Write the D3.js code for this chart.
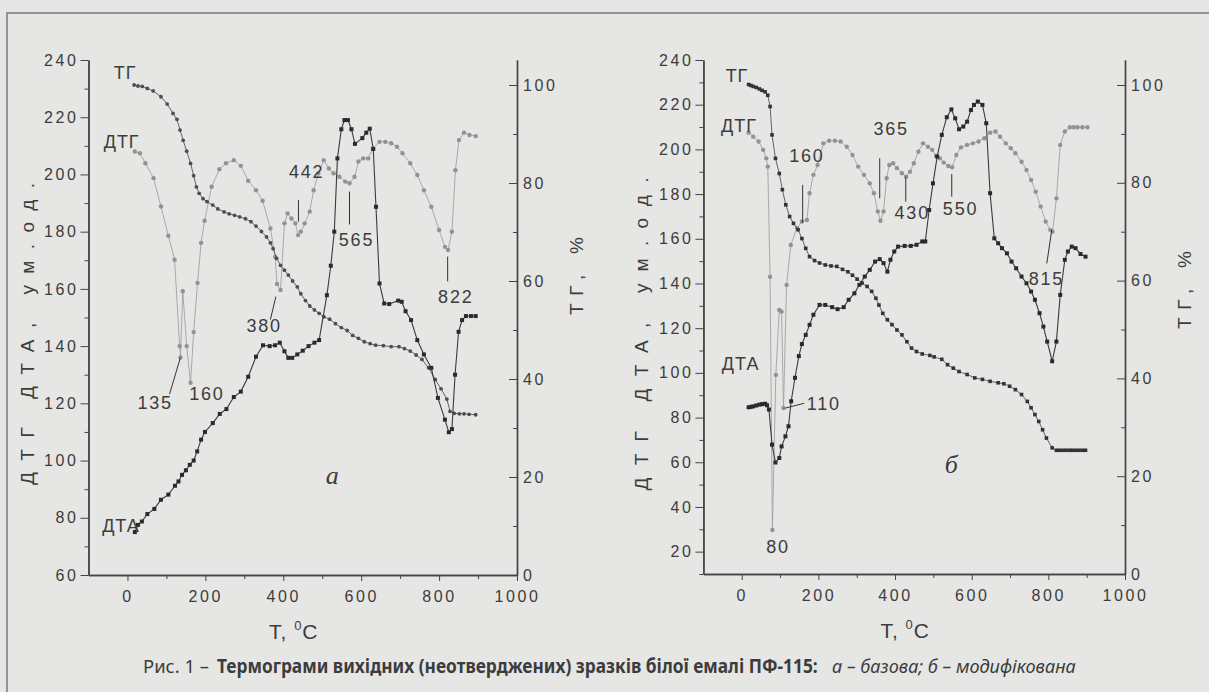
<!DOCTYPE html>
<html>
<head>
<meta charset="utf-8">
<script src="https://cdn.jsdelivr.net/npm/d3@7"></script>
<style>
  body { margin: 0; background: #e6e6e4; }
  svg { display: block; }
  text { font-family: "Liberation Sans", Arial, sans-serif; fill: #3c3c3c; }
</style>
</head>
<body>
<svg id="fig" width="1209" height="692"></svg>
<script>
// shared ticks
const tempTicks = [0, 200, 400, 600, 800, 1000];
const tempMinor = [100, 300, 500, 700, 900];
const tgTicks = [0, 20, 40, 60, 80, 100];
const tgMinor = [10, 30, 50, 70, 90];
const leftTicksA = [60, 80, 100, 120, 140, 160, 180, 200, 220, 240];
const leftMinorA = [70, 90, 110, 130, 150, 170, 190, 210, 230];
const leftTicksB = [20, 40, 60, 80, 100, 120, 140, 160, 180, 200, 220, 240];
const leftMinorB = [10, 30, 50, 70, 90, 110, 130, 150, 170, 190, 210, 230];

// panel а (базова): [T, °C ; value]
const dtaA = [[19,75.0],[27,77.5],[37,78.7],[51,81.3],[69,83.1],[86,86.3],[105,88.1],[122,91.2],[131,92.7],[140,95.0],
  [150,96.6],[160,98.5],[170,100.0],[179,103.2],[189,107.3],[199,110.0],[219,113.1],[237,116.3],[254,118.0],[273,122.2],
  [291,124.1],[310,129.3],[330,136.3],[348,140.3],[365,140.0],[379,140.3],[391,141.2],[403,138.2],[413,135.9],[423,135.9],
  [436,137.1],[450,138.4],[465,140.0],[480,141.2],[492,142.1],[512,157.8],[522,168.1],[531,180.0],[539,205.6],[549,215.8],
  [557,219.0],[566,219.0],[575,215.8],[584,210.7],[603,212.7],[613,214.6],[622,216.0],[631,208.9],[638,188.7],[647,161.9],
  [659,154.9],[672,154.7],[695,155.9],[704,155.5],[714,152.2],[728,149.1],[744,142.1],[761,137.1],[780,132.4],[797,121.9],
  [815,114.3],[825,109.9],[833,111.0],[841,130.0],[850,145.0],[859,149.1],[869,150.5],[882,150.5],[894,150.5]];
const dtgA = [[19,208.0],[32,207.4],[46,203.9],[67,198.7],[86,188.8],[105,178.6],[121,170.2],[134,140.0],[136,136.0],[142,159.2],
  [152,140.0],[162,127.2],[170,144.9],[180,162.1],[189,176.1],[198,183.8],[216,195.7],[236,201.8],[253,203.9],[273,205.0],
  [291,203.0],[310,197.8],[330,194.5],[347,190.8],[367,181.1],[379,171.2],[384,161.7],[393,159.6],[403,182.9],[411,186.4],
  [421,184.6],[431,182.9],[438,178.8],[445,180.0],[455,182.9],[468,187.0],[478,194.5],[490,200.4],[504,205.0],[517,202.1],
  [529,200.4],[544,199.2],[559,197.5],[570,196.9],[583,199.2],[593,204.5],[605,205.6],[618,205.6],[630,209.1],[647,211.4],
  [662,211.4],[677,210.9],[692,209.7],[706,207.4],[726,203.9],[744,199.8],[761,194.5],[780,188.7],[800,180.6],[815,174.7],
  [823,173.6],[833,180.0],[842,201.5],[851,212.0],[864,214.6],[878,213.8],[894,213.4]];
const tgA = [[17,100.0],[27,99.8],[38,99.7],[51,99.3],[66,98.8],[86,97.6],[102,96.1],[117,94.2],[127,93.0],[135,90.8],
  [143,88.7],[152,86.5],[162,84.0],[170,81.5],[177,79.2],[184,77.9],[194,76.8],[204,76.2],[219,75.5],[232,74.7],
  [248,74.1],[261,73.7],[275,73.4],[288,73.1],[303,72.7],[317,72.1],[330,71.2],[344,70.1],[357,69.0],[367,67.8],
  [374,66.6],[383,64.6],[393,63.2],[403,62.2],[413,61.2],[424,60.0],[436,58.8],[445,57.4],[457,56.0],[468,54.9],
  [480,54.1],[492,53.4],[504,52.7],[519,52.2],[534,51.3],[549,50.5],[564,49.9],[578,48.9],[593,48.3],[608,47.6],
  [623,47.2],[637,46.9],[657,46.8],[677,46.6],[697,46.6],[711,46.2],[726,45.7],[741,44.9],[756,44.0],[773,42.3],
  [790,39.9],[805,38.0],[820,35.9],[828,33.4],[839,33.0],[852,32.9],[864,32.9],[877,32.8],[894,32.7]];

// panel б (модифікована)
const dtaB = [[18,84.6],[24,84.8],[30,85.0],[38,85.4],[46,85.8],[53,86.0],[61,86.2],[66,85.5],[71,83.6],[79,67.9],
  [88,59.9],[98,61.9],[104,67.1],[114,71.6],[122,76.1],[129,87.3],[139,97.8],[149,107.5],[157,112.9],[167,117.0],
  [177,121.5],[187,126.0],[203,130.4],[218,130.4],[236,129.4],[250,128.5],[266,129.4],[279,132.7],[294,135.6],[307,139.4],
  [321,143.1],[334,146.1],[348,149.8],[360,150.9],[370,149.1],[380,145.3],[388,150.6],[398,154.3],[408,156.5],[425,156.8],
  [441,156.8],[456,157.3],[471,158.8],[479,158.8],[489,172.9],[499,184.8],[510,196.8],[522,206.5],[535,214.4],[547,217.9],
  [557,213.9],[567,209.0],[578,210.2],[588,212.4],[598,217.6],[606,219.9],[616,221.4],[628,219.9],[638,211.7],[648,180.4],
  [659,160.2],[669,158.0],[679,155.8],[692,153.5],[704,149.8],[716,146.8],[730,143.1],[743,140.1],[755,136.4],[765,132.7],
  [777,126.7],[787,120.7],[797,114.0],[810,105.2],[821,114.0],[831,134.9],[843,150.6],[851,154.3],[861,156.5],[871,155.8],
  [884,153.2],[897,152.0]];
const dtgB = [[18,207.5],[30,205.7],[44,203.5],[56,199.8],[64,196.0],[68,192.3],[74,143.0],[80,29.7],[89,99.1],[98,128.1],
  [104,127.4],[109,84.3],[117,139.3],[128,157.2],[144,164.8],[157,167.7],[170,168.4],[177,180.4],[187,188.6],[198,193.0],
  [213,202.7],[228,203.9],[243,203.9],[258,203.5],[274,201.2],[289,197.5],[304,192.3],[319,188.6],[334,184.8],[345,180.4],
  [355,172.2],[362,168.1],[370,172.2],[378,187.1],[385,193.0],[395,193.8],[405,191.6],[418,189.3],[429,187.8],[439,190.0],
  [449,193.8],[461,199.0],[473,202.7],[486,201.2],[497,199.8],[507,197.1],[517,196.0],[527,194.1],[539,192.6],[549,192.0],
  [560,197.5],[572,200.9],[588,202.0],[603,202.7],[618,203.5],[633,205.0],[648,207.5],[662,208.0],[674,205.7],[689,202.7],
  [702,200.5],[714,198.3],[730,194.5],[743,190.8],[755,186.3],[767,181.1],[780,174.4],[793,167.7],[805,164.0],[811,163.2],
  [821,178.1],[831,202.0],[843,208.0],[856,209.9],[866,209.9],[876,209.9],[889,209.9],[902,209.9]];
const tgB = [[18,100.1],[24,99.9],[30,99.7],[38,99.5],[46,99.2],[53,98.9],[61,98.6],[68,97.9],[74,95.6],[79,89.8],
  [88,85.0],[98,81.9],[106,78.6],[115,75.5],[125,73.1],[135,71.7],[147,70.4],[157,68.6],[167,66.6],[177,64.9],
  [190,64.1],[203,63.6],[218,63.2],[233,63.0],[248,62.9],[263,62.3],[277,61.8],[289,61.1],[301,60.3],[314,59.5],
  [327,58.8],[339,57.8],[350,56.4],[358,55.0],[368,53.3],[380,52.0],[392,51.0],[405,49.9],[418,48.9],[431,47.5],
  [443,46.2],[456,45.5],[471,45.0],[491,44.7],[502,44.4],[522,43.9],[537,42.8],[552,42.1],[567,41.4],[588,40.8],
  [608,40.1],[628,39.8],[648,39.4],[669,39.1],[684,38.9],[699,38.4],[714,37.7],[730,36.7],[745,35.3],[755,34.0],
  [765,32.6],[775,31.2],[785,29.5],[795,27.8],[810,25.8],[821,25.3],[829,25.3],[838,25.3],[846,25.3],[855,25.3],
  [863,25.3],[872,25.3],[880,25.3],[889,25.3],[897,25.3]];

// peak labels, anchored in data units (T, left-axis value)
const notesA = [
  {text: "442", at: [460, 198.8], line: [[439, 191], [439, 183.5]]},
  {text: "565", at: [588, 174.9], line: [[570, 194], [570, 182.5]]},
  {text: "822", at: [843, 155.2], line: [[822, 171.3], [822, 162.6]]},
  {text: "380", at: [351, 144.8], line: [[381, 157.3], [367, 149.3]]},
  {text: "135", at: [71, 118], line: [[136, 136], [108, 123.2]]},
  {text: "160", at: [204, 121.2]}
];
const notesB = [
  {text: "160", at: [170, 194.4], line: [[159, 184.1], [159, 167.1]]},
  {text: "365", at: [390, 206.4], line: [[360, 196], [360, 178.1]]},
  {text: "430", at: [445, 168.9], line: [[428, 187.8], [428, 176.6]]},
  {text: "550", at: [571, 170.6], line: [[548, 189], [548, 178.8]]},
  {text: "815", at: [795, 139.3], line: [[809, 164], [796, 149]]},
  {text: "110", at: [214, 83.4], line: [[113, 84.2], [163, 86.4]]},
  {text: "80", at: [95, 19.4]}
];
const namesA = [["ТГ", -35, 233.2], ["ДТГ", -61, 209.3], ["ДТА", -65, 74.9]];
const namesB = [["ТГ", -42, 230.2], ["ДТГ", -54, 207.8], ["ДТА", -52, 101.3]];

// caption pieces: text, weight, style, colour
const captionParts = [
  ["Рис. 1 –", "normal", "normal", "#555"],
  ["Термограми вихідних (неотверджених) зразків білої емалі ПФ-115:", "bold", "normal", "#333"],
  ["а – базова; б – модифікована", "normal", "italic", "#555"]
];

const FONT = "'Liberation Sans', Arial, sans-serif";
const svg = d3.select("#fig");

// page frame (left and top edges visible)
svg.append("path").attr("d", "M7,692V13H1209").attr("fill", "none").attr("stroke", "#7a7a7a").attr("stroke-width", 1.5);

function drawPanel(p) {
  const x = d3.scaleLinear([-100, 1000], [p.left, p.right]);
  const yL = d3.scaleLinear(p.leftDomain, [p.bottom, p.top]);
  const topPct = 100 * (p.bottom - p.top) / (p.bottom - p.y100);
  const yR = d3.scaleLinear([0, topPct], [p.bottom, p.top]);
  const g = svg.append("g");
  const fmt = d3.format("d");
  const tickFont = g => g.selectAll("text").style("font-family", FONT).attr("font-size", 16)
    .style("letter-spacing", "2.6px").attr("fill", "#444");
  const axisStyle = g => {
    g.selectAll("path,line").attr("stroke", "#444");
    g.select(".domain").attr("stroke-width", 1.4);
  };

  // bottom axis
  g.append("g").attr("transform", `translate(0,${p.bottom})`)
    .call(d3.axisBottom(x).tickValues(tempMinor).tickSize(4).tickSizeOuter(0).tickFormat(""))
    .call(axisStyle);
  g.append("g").attr("transform", `translate(0,${p.bottom})`)
    .call(d3.axisBottom(x).tickValues(tempTicks).tickSize(6).tickSizeOuter(0).tickPadding(10).tickFormat(fmt))
    .call(axisStyle).call(tickFont);
  // left axis
  g.append("g").attr("transform", `translate(${p.left},0)`)
    .call(d3.axisLeft(yL).tickValues(p.leftMinor).tickSize(4).tickSizeOuter(0).tickFormat(""))
    .call(axisStyle);
  g.append("g").attr("transform", `translate(${p.left},0)`)
    .call(d3.axisLeft(yL).tickValues(p.leftTicks).tickSize(8).tickSizeOuter(0).tickPadding(2).tickFormat(fmt))
    .call(axisStyle).call(tickFont);
  // right axis (ТГ, %)
  g.append("g").attr("transform", `translate(${p.right},0)`)
    .call(d3.axisRight(yR).tickValues(tgMinor).tickSize(-4).tickSizeOuter(0).tickFormat(""))
    .call(axisStyle);
  g.append("g").attr("transform", `translate(${p.right},0)`)
    .call(d3.axisRight(yR).tickValues(tgTicks).tickSize(-8).tickSizeOuter(0).tickPadding(6).tickFormat(fmt))
    .call(axisStyle).call(tickFont);

  // series
  const lineL = d3.line().x(d => x(d[0])).y(d => yL(d[1]));
  const lineR = d3.line().x(d => x(d[0])).y(d => yR(d[1]));

  g.append("path").datum(p.dtg).attr("d", lineL).attr("fill", "none").attr("stroke", "#a2a2a2").attr("stroke-width", 0.9);
  g.append("g").selectAll("circle").data(p.dtg).join("circle")
    .attr("cx", d => x(d[0])).attr("cy", d => yL(d[1])).attr("r", 2.2).attr("fill", "#929292");

  g.append("path").datum(p.tg).attr("d", lineR).attr("fill", "none").attr("stroke", "#555").attr("stroke-width", 0.9);
  if (p.tgSquares) {
    g.append("g").selectAll("rect").data(p.tg).join("rect")
      .attr("x", d => x(d[0]) - 1.8).attr("y", d => yR(d[1]) - 1.8).attr("width", 3.6).attr("height", 3.6).attr("fill", "#333");
  } else {
    g.append("g").selectAll("circle").data(p.tg).join("circle")
      .attr("cx", d => x(d[0])).attr("cy", d => yR(d[1])).attr("r", 1.9).attr("fill", "#4d4d4d");
  }

  g.append("path").datum(p.dta).attr("d", lineL).attr("fill", "none").attr("stroke", "#3a3a3a").attr("stroke-width", 1.1);
  g.append("g").selectAll("rect").data(p.dta).join("rect")
    .attr("x", d => x(d[0]) - 2).attr("y", d => yL(d[1]) - 2).attr("width", 4).attr("height", 4).attr("fill", "#2a2a2a");

  // peak labels
  p.notes.forEach(n => {
    if (n.line) {
      g.append("line").attr("x1", x(n.line[0][0])).attr("y1", yL(n.line[0][1]))
        .attr("x2", x(n.line[1][0])).attr("y2", yL(n.line[1][1]))
        .attr("stroke", "#333").attr("stroke-width", 1);
    }
    g.append("text").attr("x", x(n.at[0])).attr("y", yL(n.at[1])).attr("text-anchor", "middle")
      .style("font-family", FONT).attr("font-size", 18).style("letter-spacing", "1.8px").text(n.text);
  });
  p.names.forEach(([t, tx, v]) => {
    g.append("text").attr("x", x(tx)).attr("y", yL(v)).style("font-family", FONT)
      .attr("font-size", 18).style("letter-spacing", "1px").text(t);
  });
  g.append("text").attr("x", x(p.letter[1])).attr("y", yL(p.letter[2])).attr("text-anchor", "middle")
    .style("font-family", "'Liberation Serif', 'DejaVu Serif', serif").style("font-style", "italic")
    .attr("font-size", 26).attr("fill", "#555").text(p.letter[0]);

  // axis titles
  const tx = g.append("text").attr("x", (p.left + p.right) / 2 - 9).attr("y", p.bottom + 64)
    .attr("text-anchor", "middle").style("font-family", FONT).attr("font-size", 21)
    .style("letter-spacing", "1px").attr("fill", "#444");
  tx.append("tspan").text("T, ");
  tx.append("tspan").attr("font-size", 13).attr("dy", -9).text("0");
  tx.append("tspan").attr("dy", 9).text("C");

  g.append("text").attr("transform", `translate(${p.left - 55},${p.leftTitleY}) rotate(-90)`)
    .attr("text-anchor", "middle").style("font-family", FONT).attr("font-size", 19).attr("fill", "#444")
    .attr("textLength", p.leftTitleLen).attr("lengthAdjust", "spacing")
    .text("ДТГ ДТА, ум.од.");
  g.append("text").attr("transform", `translate(${p.right + 66},${p.rightTitleY}) rotate(-90)`)
    .attr("text-anchor", "middle").style("font-family", FONT).attr("font-size", 19).attr("fill", "#444")
    .attr("textLength", 78).attr("lengthAdjust", "spacing")
    .text("ТГ, %");
}

drawPanel({left: 88.5, right: 517, top: 60, bottom: 575, y100: 85,
  leftDomain: [60, 240], leftTicks: leftTicksA, leftMinor: leftMinorA,
  dta: dtaA, dtg: dtgA, tg: tgA, tgSquares: false, notes: notesA, names: namesA,
  letter: ["а", 526, 91.8], leftTitleY: 334, leftTitleLen: 302, rightTitleY: 276});

drawPanel({left: 703.4, right: 1125, top: 60, bottom: 574, y100: 85,
  leftDomain: [10, 240], leftTicks: leftTicksB, leftMinor: leftMinorB,
  dta: dtaB, dtg: dtgB, tg: tgB, tgSquares: true, notes: notesB, names: namesB,
  letter: ["б", 547, 55.2], leftTitleY: 334, leftTitleLen: 313, rightTitleY: 290});

// caption: three runs, each narrowed horizontally to its span in the figure
const capSpans = [[143, 66], [217, 601], [832, 244]];
captionParts.forEach(([t, w, s, c], i) => {
  const el = svg.append("text").attr("x", 0).attr("y", 0)
    .style("font-family", "'Noto Sans', 'Open Sans', sans-serif").attr("font-size", 19)
    .attr("font-weight", w).style("font-style", s).attr("fill", c)
    .text(t);
  const k = capSpans[i][1] / el.node().getComputedTextLength();
  el.attr("transform", `translate(${capSpans[i][0]},673) scale(${k},1)`);
});
</script>
</body>
</html>
